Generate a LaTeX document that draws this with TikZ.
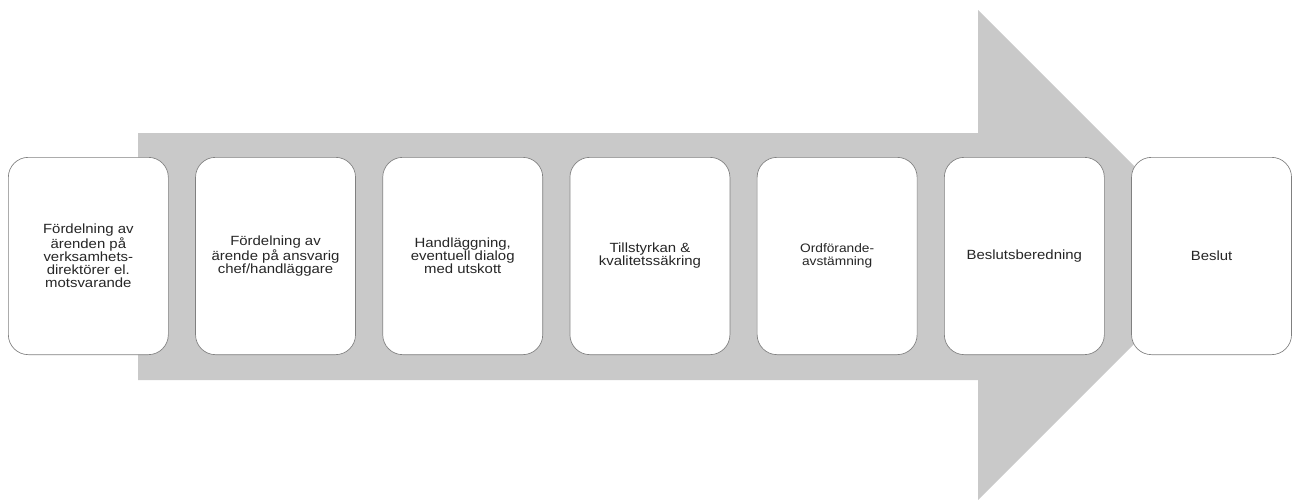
\documentclass[tikz,border=0pt]{standalone}
\usepackage{fontspec}
\setmainfont{Liberation Sans}[FakeStretch=1.12]
\usetikzlibrary{positioning}
\begin{document}
\begin{tikzpicture}[x=0.75pt,y=-0.75pt,
    stepbox/.style={draw=black!50, line width=0.5pt, fill=white, rounded corners=15pt,
      minimum width=120pt, minimum height=148pt, align=center, inner sep=2pt,
      text=black!85, font=\fontsize{10}{9.75}\selectfont},
    smalltext/.style={font=\fontsize{9.2}{9.75}\selectfont},
    node distance=19.9pt]
  \useasboundingbox (0,0) rectangle (1293,500);
  % big grey arrow behind the steps
  \fill [black!21] (138,133) -- (978,133) -- (978,10) -- (1223,255) -- (978,500) -- (978,380) -- (138,380) -- cycle;
  % steps
  \node [stepbox, anchor=north west] (fordelning) at (8,157) {Fördelning av\\ärenden på\\verksamhets-\\direktörer el.\\motsvarande};
  \node [stepbox, right=of fordelning] (ansvarig) {Fördelning av\\ärende på ansvarig\\chef/handläggare};
  \node [stepbox, right=of ansvarig] (handlaggning) {Handläggning,\\eventuell dialog\\med utskott};
  \node [stepbox, right=of handlaggning] (tillstyrkan) {Tillstyrkan \&\\kvalitetssäkring};
  \node [stepbox, smalltext, right=of tillstyrkan] (ordforande) {Ordförande-\\avstämning};
  \node [stepbox, right=of ordforande] (beredning) {Beslutsberedning};
  \node [stepbox, right=of beredning] (beslut) {Beslut};
\end{tikzpicture}
\end{document}
